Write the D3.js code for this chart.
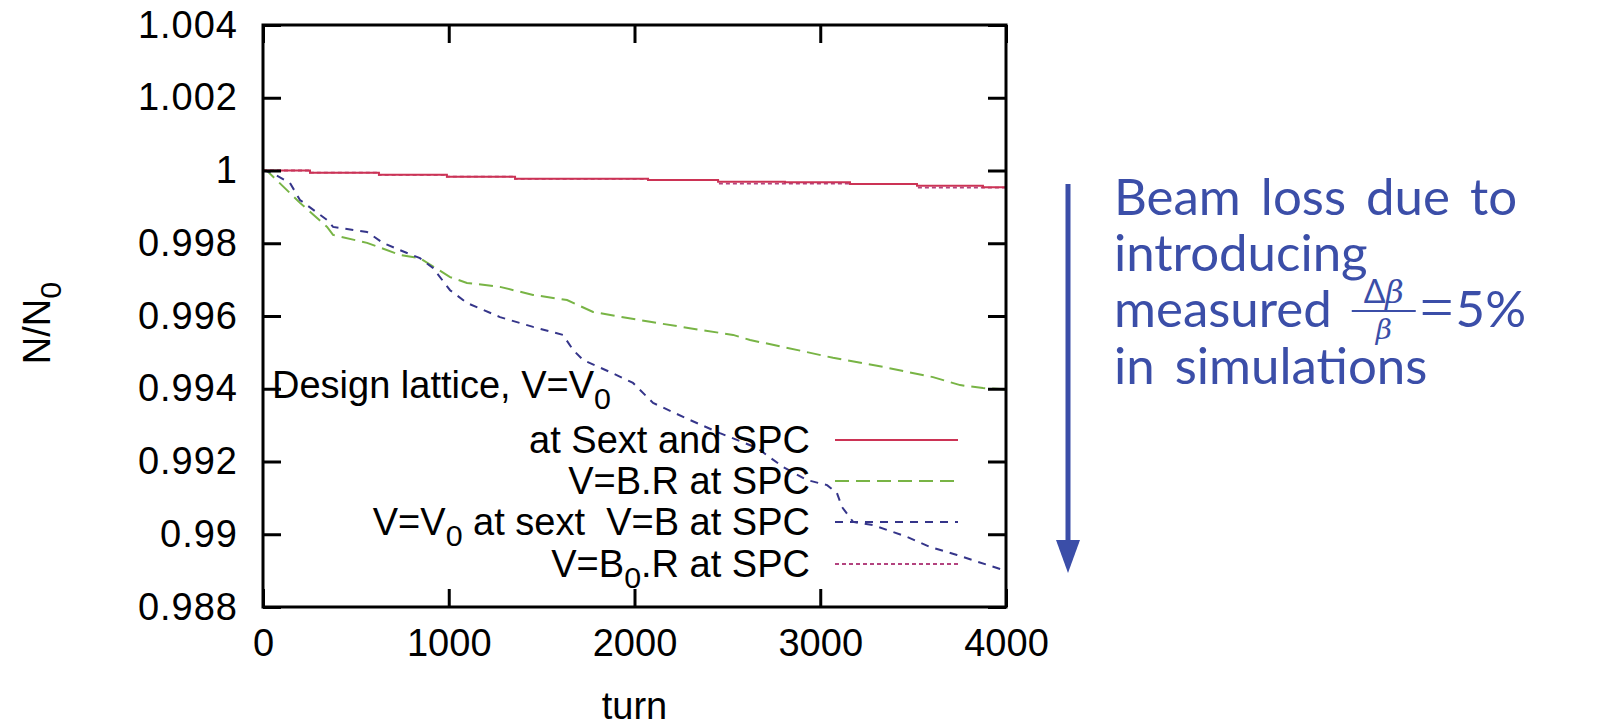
<!DOCTYPE html>
<html>
<head>
<meta charset="utf-8">
<script src="https://cdn.jsdelivr.net/npm/d3@7"></script>
<style>
  body { margin: 0; background: #fff; }
  svg { display: block; }
  text { white-space: pre; }
</style>
</head>
<body>
<svg id="chart" width="1601" height="728"></svg>
<script>
// Axis ticks
const xTicks = [0, 1000, 2000, 3000, 4000];
const yTicks = [0.988, 0.990, 0.992, 0.994, 0.996, 0.998, 1.000, 1.002, 1.004];
const yTickLabels = ["0.988", "0.99", "0.992", "0.994", "0.996", "0.998", "1", "1.002", "1.004"];

// V=V0 at Sext and SPC (step-wise survival)
const sextSpcTurns  = [0, 253, 624, 990, 1357, 2073, 2450, 2810, 3160, 3521, 3876, 4000];
const sextSpcValues = [1.0, 0.99994, 0.99988, 0.99983, 0.99977, 0.99974, 0.99969, 0.99968, 0.99963, 0.99958, 0.99954, 0.99954];

// V=B.R at SPC
const bRTurns  = [0, 22, 145, 199, 345, 377, 560, 738, 845, 1007, 1098, 1276, 1454, 1637, 1777, 2084, 2353, 2531, 2622, 2800, 3069, 3338, 3607, 3753, 3876, 3968, 4000];
const bRValues = [1.0, 0.99999, 0.99938, 0.99911, 0.99845, 0.99823, 0.99801, 0.99768, 0.99759, 0.99707, 0.99691, 0.99680, 0.99658, 0.99644, 0.99611, 0.99584, 0.99562, 0.99548, 0.99534, 0.99515, 0.99485, 0.99460, 0.99432, 0.99410, 0.99402, 0.99399, 0.99398];

// V=V0 at sext, V=B at SPC
const v0bTurns  = [0, 38, 145, 199, 345, 377, 560, 646, 738, 845, 915, 1007, 1098, 1276, 1454, 1615, 1669, 1723, 1868, 1992, 2100, 2299, 2460, 2660, 2800, 2929, 3037, 3090, 3117, 3177, 3284, 3467, 3591, 3736, 3898, 3984, 4000];
const v0bValues = [1.0, 0.99996, 0.99966, 0.99919, 0.99864, 0.99845, 0.99831, 0.99801, 0.99781, 0.99759, 0.99732, 0.99671, 0.99636, 0.99597, 0.99570, 0.99548, 0.99507, 0.99479, 0.99446, 0.99416, 0.99361, 0.99314, 0.99278, 0.99237, 0.99185, 0.99149, 0.99135, 0.99113, 0.99075, 0.99034, 0.99025, 0.98993, 0.98965, 0.98943, 0.98916, 0.98902, 0.98898];

// V=B0.R at SPC (step-wise survival)
const b0RTurns  = [0, 253, 624, 990, 1357, 2073, 2450, 2810, 3160, 3521, 3876, 4000];
const b0RValues = [1.0, 0.99994, 0.99988, 0.99983, 0.99977, 0.99974, 0.99964, 0.99964, 0.99963, 0.99953, 0.99953, 0.99953];

const svg = d3.select("#chart");
const plot = { left: 263, right: 1006, top: 25, bottom: 607 };
const FONT = "'Liberation Sans', Arial, Helvetica, sans-serif";
const FS = 38;

const x = d3.scaleLinear().domain([0, 4000]).range([plot.left, plot.right]);
const y = d3.scaleLinear().domain([0.988, 1.004]).range([plot.bottom, plot.top]);

const zip = (t, v) => t.map((d, i) => ({ t: d, v: v[i] }));

const series = [
  { name: "b0R",  data: zip(b0RTurns, b0RValues),   color: "#b3437f", dash: "4,3",  width: 1.8, curve: d3.curveStepAfter },
  { name: "bR",   data: zip(bRTurns, bRValues),     color: "#78b445", dash: "14,7", width: 2,   curve: d3.curveLinear },
  { name: "v0b",  data: zip(v0bTurns, v0bValues),   color: "#35358a", dash: "8,7",  width: 2,   curve: d3.curveLinear },
  { name: "sext", data: zip(sextSpcTurns, sextSpcValues), color: "#cc3355", dash: null, width: 2, curve: d3.curveStepAfter }
];

// curves
const gLines = svg.append("g");
series.forEach(s => {
  const line = d3.line().x(d => x(d.t)).y(d => y(d.v)).curve(s.curve);
  gLines.append("path")
    .datum(s.data)
    .attr("fill", "none")
    .attr("stroke", s.color)
    .attr("stroke-width", s.width)
    .attr("stroke-dasharray", s.dash)
    .attr("d", line);
});

// axes with inward ticks, mirrored on top and right
const TICK = 18;
function styleAxis(g) {
  g.select(".domain").remove();
  g.selectAll(".tick line").attr("stroke", "#000").attr("stroke-width", 3);
  g.selectAll("text").attr("font-family", FONT).attr("font-size", FS).attr("fill", "#000");
}
svg.append("g")
  .attr("transform", `translate(${plot.left},0)`)
  .call(d3.axisLeft(y).tickValues(yTicks).tickFormat((d, i) => yTickLabels[i]).tickSizeInner(-TICK).tickSizeOuter(0).tickPadding(25))
  .call(styleAxis)
  .selectAll("text").attr("letter-spacing", 1);
svg.append("g")
  .attr("transform", `translate(${plot.right},0)`)
  .call(d3.axisRight(y).tickValues(yTicks).tickFormat("").tickSizeInner(-TICK).tickSizeOuter(0))
  .call(styleAxis);
svg.append("g")
  .attr("transform", `translate(0,${plot.bottom})`)
  .call(d3.axisBottom(x).tickValues(xTicks).tickFormat(d3.format("d")).tickSizeInner(-TICK).tickSizeOuter(0).tickPadding(22))
  .call(styleAxis);
svg.append("g")
  .attr("transform", `translate(0,${plot.top})`)
  .call(d3.axisTop(x).tickValues(xTicks).tickFormat("").tickSizeInner(-TICK).tickSizeOuter(0))
  .call(styleAxis);

// frame
svg.append("rect")
  .attr("x", plot.left).attr("y", plot.top)
  .attr("width", plot.right - plot.left).attr("height", plot.bottom - plot.top)
  .attr("fill", "none").attr("stroke", "#000").attr("stroke-width", 3);

// axis titles
svg.append("text")
  .attr("x", x(2000)).attr("y", 719)
  .attr("text-anchor", "middle")
  .attr("font-family", FONT).attr("font-size", FS)
  .text("turn");

const yl = svg.append("text")
  .attr("transform", "translate(50,323) rotate(-90)")
  .attr("text-anchor", "middle")
  .attr("font-family", FONT).attr("font-size", FS);
yl.append("tspan").text("N/N");
yl.append("tspan").attr("dy", 11).attr("font-size", FS * 0.8).text("0");

// key
const keyText = svg.append("g").attr("font-family", FONT).attr("font-size", FS).attr("fill", "#000");
const title = keyText.append("text").attr("x", 272).attr("y", 398);
title.append("tspan").text("Design lattice, V=V");
title.append("tspan").attr("dy", 11).attr("font-size", FS * 0.8).text("0");

const keyRows = [
  { y: 440, parts: [["at Sext and SPC", 0]] },
  { y: 481, parts: [["V=B.R at SPC", 0]] },
  { y: 522, parts: [["V=V", 0], ["0", 1], [" at sext  V=B at SPC", 0]] },
  { y: 564, parts: [["V=B", 0], ["0", 1], [".R at SPC", 0]] }
];
const keyOrder = ["sext", "bR", "v0b", "b0R"];
keyRows.forEach((row, i) => {
  const t = keyText.append("text").attr("x", 810).attr("y", row.y + 13).attr("text-anchor", "end");
  let sub = false;
  row.parts.forEach(([str, isSub]) => {
    const ts = t.append("tspan").text(str);
    if (isSub && !sub) { ts.attr("dy", 11).attr("font-size", FS * 0.8); sub = true; }
    else if (!isSub && sub) { ts.attr("dy", -11); sub = false; }
  });
  const s = series.find(d => d.name === keyOrder[i]);
  svg.append("line")
    .attr("x1", 835).attr("x2", 958)
    .attr("y1", row.y).attr("y2", row.y)
    .attr("stroke", s.color).attr("stroke-width", s.width)
    .attr("stroke-dasharray", s.dash);
});

// beam-loss annotation
const BLUE = "#3b4ea8";
svg.append("line")
  .attr("x1", 1068).attr("x2", 1068).attr("y1", 184).attr("y2", 548)
  .attr("stroke", BLUE).attr("stroke-width", 5);
svg.append("path")
  .attr("d", "M1056,540 L1080,540 L1068,573 Z")
  .attr("fill", BLUE);

const AFONT = "Lato, 'Open Sans', sans-serif";
const AFS = 51;
const MATH = "'DejaVu Serif', serif";
const ann = svg.append("g").attr("font-family", AFONT).attr("font-size", AFS).attr("fill", BLUE).attr("word-spacing", 7);
ann.append("text").attr("x", 1114).attr("y", 215).text("Beam loss due to");
ann.append("text").attr("x", 1114).attr("y", 271).text("introducing");
const l3 = ann.append("text").attr("x", 1114).attr("y", 327).text("measured");
ann.append("text").attr("x", 1114).attr("y", 384).text("in simulations");

// Δβ/β fraction after "measured"
const fx = 1114 + l3.node().getComputedTextLength() + 20;
const fw = 64;
const barY = 311;
const frac = ann.append("g");
const num = frac.append("text").attr("x", fx + fw / 2).attr("y", barY - 8).attr("text-anchor", "middle").attr("font-size", 32);
num.append("tspan").text("Δ");
num.append("tspan").attr("font-family", MATH).attr("font-style", "italic").text("β");
frac.append("line").attr("x1", fx).attr("x2", fx + fw).attr("y1", barY).attr("y2", barY).attr("stroke", BLUE).attr("stroke-width", 2);
frac.append("text").attr("x", fx + fw / 2).attr("y", barY + 28).attr("text-anchor", "middle").attr("font-size", 28)
  .attr("font-family", MATH).attr("font-style", "italic").text("β");
const eq = ann.append("text").attr("x", fx + fw + 4).attr("y", 327)
  .attr("font-family", "'Liberation Serif', serif").attr("font-size", 60).text("=");
const eqW = eq.node().getComputedTextLength();
ann.append("text").attr("x", fx + fw + 6 + eqW).attr("y", 327).text("5%");
</script>
</body>
</html>
